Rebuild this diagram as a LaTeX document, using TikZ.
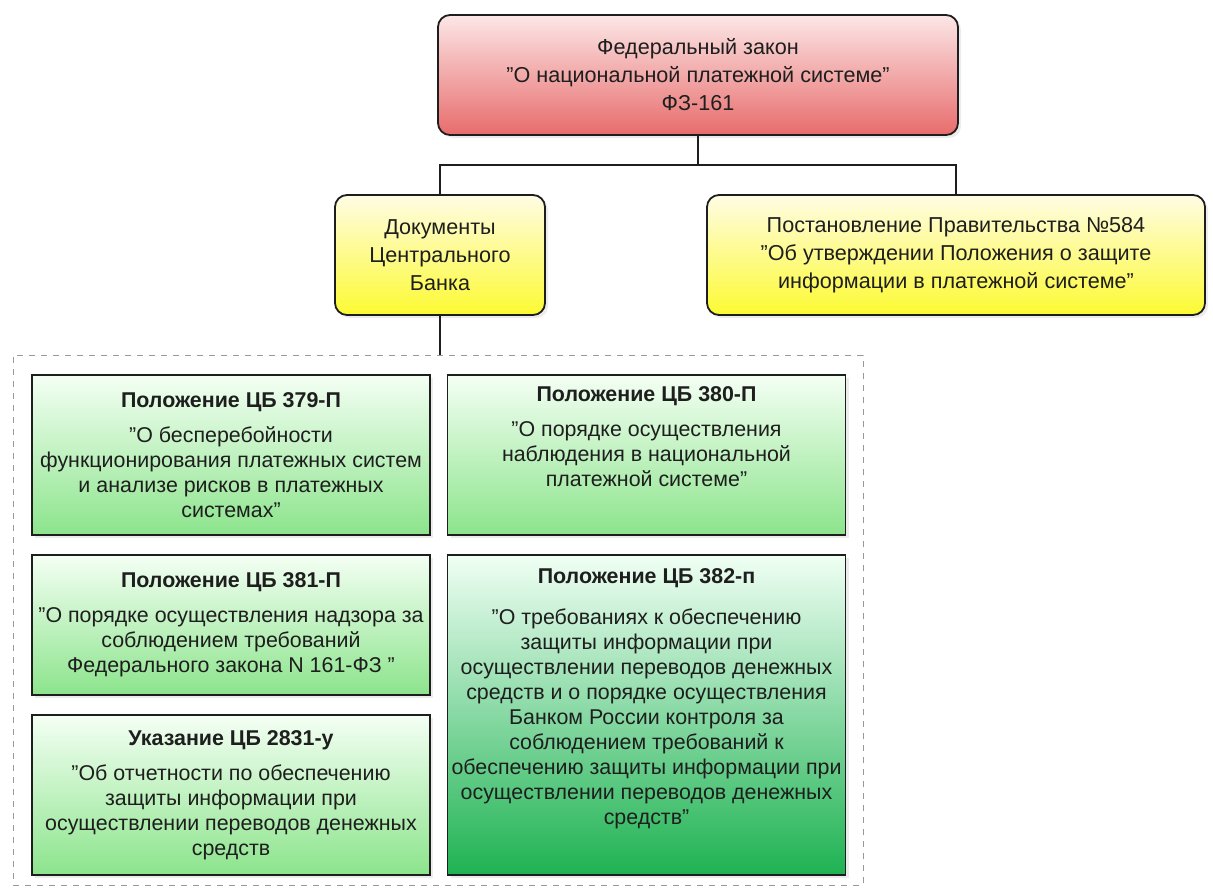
\documentclass[tikz,border=0pt]{standalone}
\usepackage{fontspec}
\setmainfont{Liberation Sans}
\usetikzlibrary{shadows}

\definecolor{lawtop}{RGB}{252,230,230}
\definecolor{lawbot}{RGB}{232,108,108}
\definecolor{acttop}{RGB}{255,252,228}
\definecolor{actbot}{RGB}{252,250,50}
\definecolor{doctop}{RGB}{244,255,244}
\definecolor{docbot}{RGB}{140,228,140}
\definecolor{maintop}{RGB}{240,255,244}
\definecolor{mainbot}{RGB}{30,178,82}
\definecolor{ink}{RGB}{30,30,30}

\tikzset{
  soft/.style={drop shadow={shadow xshift=1.5pt, shadow yshift=-1.5pt, opacity=0.15}},
  lawbox/.style={draw=ink, line width=0.9pt, rounded corners=6pt, soft, top color=lawtop, bottom color=lawbot,
    align=center, minimum height=60pt, text=ink, font=\fontsize{10.8}{14}\selectfont},
  actbox/.style={lawbox, top color=acttop, bottom color=actbot},
  docbox/.style={draw=ink, line width=0.7pt, soft, top color=doctop, bottom color=docbot, minimum width=199pt,
    inner xsep=0pt, align=center, text=ink, font=\fontsize{10.7}{12.5}\selectfont},
  groupbox/.style={draw=black!40, dashed, minimum width=425pt, minimum height=265pt},
  link/.style={draw=ink, line width=0.7pt},
}

\begin{document}
\begin{tikzpicture}[x=0.5pt,y=-0.5pt]
  \useasboundingbox (0,0) rectangle (1213,889);
  % law and acts
  \node[lawbox, minimum width=260pt] (law) at (698,75) {Федеральный закон \\ "О национальной платежной системе" \\ ФЗ-161};
  \node[actbox, minimum width=105pt] (cb) at (440,255) {Документы \\ Центрального \\ Банка};
  \node[actbox, minimum width=249pt] (gov) at (956,255) {Постановление Правительства №584 \\ "Об утверждении Положения о защите \\ информации в платежной системе"};
  %
  \node[groupbox] (docs) at (438,620) {};
  %
  \node[docbox, minimum height=80pt] (p379) at (231,455) {\textbf{Положение ЦБ 379-П} \\[5pt] "О бесперебойности \\ функционирования платежных систем \\ и анализе рисков в платежных \\ системах"};
  \node[docbox, minimum height=80pt] (p380) at (646.5,455) {\textbf{Положение ЦБ 380-П} \\[5pt] "О порядке осуществления \\ наблюдения в национальной \\ платежной системе" \\[6pt]};
  \node[docbox, minimum height=70pt] (p381) at (231,625) {\textbf{Положение ЦБ 381-П} \\[5pt] "О порядке осуществления надзора за \\ соблюдением требований \\ Федерального закона N 161-ФЗ "};
  \node[docbox, minimum height=80pt] (u2831) at (231,795) {\textbf{Указание ЦБ 2831-у} \\[5pt] "Об отчетности по обеспечению \\ защиты информации при \\ осуществлении переводов денежных \\ средств};
  \node[docbox, minimum height=160pt, top color=maintop, bottom color=mainbot] (p382) at (646.5,715) {\textbf{Положение ЦБ 382-п} \\[8pt] "О требованиях к обеспечению \\ защиты информации при \\ осуществлении переводов денежных \\ средств и о порядке осуществления \\ Банком России контроля за \\ соблюдением требований к \\ обеспечению защиты информации при \\ осуществлении переводов денежных \\ средств" \\[6pt]};
  %
  \coordinate (fork) at (698,165);
  \draw[link] (law.south) -- (fork) -| (cb.north);
  \draw[link] (fork) -| (gov.north);
  \draw[link] (cb.south) -- (cb.south |- docs.north);
\end{tikzpicture}
\end{document}
